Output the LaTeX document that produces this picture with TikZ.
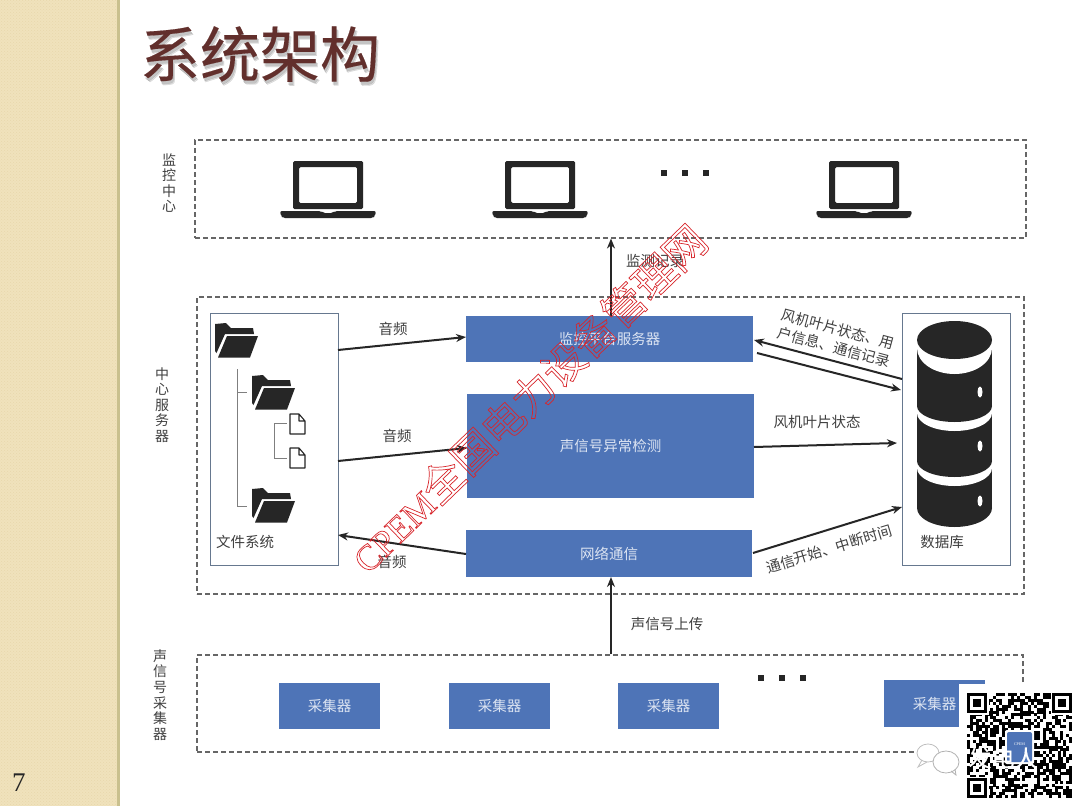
\documentclass[tikz,border=0pt]{standalone}
\usepackage{fontspec}
\setmainfont{Noto Sans CJK SC}
\newfontfamily\serifl{Liberation Serif}
\newfontfamily\titlef[FakeBold=0.25]{Noto Sans CJK SC}
\newfontfamily\tagf[FakeBold=0.5]{Noto Sans CJK SC}
\usetikzlibrary{arrows.meta,patterns}
\definecolor{strip}{HTML}{F0E2BC}
\definecolor{stripd}{HTML}{E8D8AC}
\definecolor{stripedge}{HTML}{C9C08E}
\definecolor{titlec}{HTML}{622F2C}
\definecolor{blueb}{HTML}{4E74B7}
\definecolor{bluet}{HTML}{DCE4F2}
\definecolor{ink}{HTML}{262626}
\definecolor{labelc}{HTML}{404040}
\definecolor{dashc}{HTML}{666666}
\definecolor{edgec}{HTML}{66788F}
\definecolor{treec}{HTML}{7F7F7F}
\definecolor{wm}{HTML}{D8252B}
\tikzset{
  dashbox/.style={draw=dashc,line width=1.05pt,dash pattern=on 5pt off 3pt},
  panel/.style={draw=edgec,line width=1pt,fill=white,inner sep=0pt,outer sep=0pt},
  bluebox/.style={fill=blueb,inner sep=0pt,outer sep=0pt,text=bluet,font=\fontsize{14.5}{17}\selectfont},
  lab/.style={text=labelc,inner sep=0pt,font=\fontsize{14.5}{17}\selectfont},
  vlab/.style={text=labelc,inner sep=0pt,align=center,font=\fontsize{14}{15.6}\selectfont},
  link/.style={draw=ink,line width=2pt,-{Stealth[length=10pt,width=8pt]}},
  tree/.style={draw=treec,line width=1pt},
  dots/.style={fill=ink,minimum size=6pt,inner sep=0pt},
  band/.style={fill=white},
  seg/.style={fill=ink},
  laptop/.pic={
    \fill[ink,even odd rule,rounded corners=1.5pt] (-35,-29) rectangle (35,19) (-29,-23) rectangle (29,13);
    \fill[ink,rounded corners=2pt] (-48,21) -- (-7,21) -- (-5,23) -- (5,23) -- (7,21) -- (48,21) -- (47,26) -- (45,28) -- (-45,28) -- (-47,26) -- cycle;
  },
  folder/.pic={
    \fill[ink] (0,1) -- (11,0) -- (16,5) -- (38,5) -- (39,11) -- (10,11) -- (1.5,30) -- (0,28) -- cycle;
    \fill[ink] (12,13) -- (43,13) -- (35,34.5) -- (3,34.5) -- cycle;
  },
  docicon/.pic={
    \draw[ink,line width=1.1pt,line join=round] (0,0) -- (9,0) -- (15,7) -- (15,20) -- (0,20) -- cycle (9,0) -- (9,7) -- (15,7);
  },
}
\begin{document}
\begin{tikzpicture}[x=1pt,y=-1pt]
\useasboundingbox (0,0) rectangle (1080,806);
\fill[white] (0,0) rectangle (1080,806);
% side strip
\fill[strip] (0,0) rectangle (117,806);
\fill[pattern=crosshatch dots,pattern color=stripd] (0,0) rectangle (117,806);
\fill[stripedge] (117,0) rectangle (120,806);
\node[inner sep=0pt,text=ink,font=\serifl\fontsize{27}{30}\selectfont] (pagenum) at (19,783) {7};
% title
\node[inner sep=0pt,text=black,opacity=.12,font=\titlef\fontsize{60}{62}\selectfont] (titleshadowa) at (261,57) {系统架构};
\node[inner sep=0pt,text=black,opacity=.12,font=\titlef\fontsize{60}{62}\selectfont] (titleshadowb) at (262,58) {系统架构};
\node[inner sep=0pt,text=titlec,font=\titlef\fontsize{60}{62}\selectfont] (title) at (260,54) {系统架构};
% tier frames
\node[dashbox,minimum width=831pt,minimum height=98pt,inner sep=0pt] (tierA) at (610.5,189) {};
\node[dashbox,minimum width=827pt,minimum height=297pt,inner sep=0pt] (tierB) at (610.5,445.5) {};
\node[dashbox,minimum width=826pt,minimum height=97pt,inner sep=0pt] (tierC) at (610,703.5) {};
\node[vlab] (tierAl) at (169,183) {监\\控\\中\\心};
\node[vlab] (tierBl) at (162,405) {中\\心\\服\\务\\器};
\node[vlab] (tierCl) at (160,695) {声\\信\\号\\采\\集\\器};
% laptops
\pic at (328,190) {laptop};
\pic at (540,190) {laptop};
\pic at (864,190) {laptop};
\node[dots] (da1) at (664,173) {};
\node[dots] (da2) at (685,173) {};
\node[dots] (da3) at (706,173) {};
% panels
\node[panel,minimum width=128pt,minimum height=252pt] (fs) at (274,439) {};
\node[panel,minimum width=108pt,minimum height=252pt] (db) at (956,439) {};
\node[lab] (fsl) at (245,542) {文件系统};
\node[lab] (dbl) at (942,542) {数据库};
% file tree
\draw[tree] (237,369) -- (237,506) -- (247,506);
\draw[tree] (237,392) -- (247,392);
\draw[tree] (274,423) -- (274,458) -- (287,458);
\draw[tree] (274,423) -- (287,423);
\pic at (215,323) {folder};
\pic at (252,375) {folder};
\pic at (252,488) {folder};
\pic at (290,414) {docicon};
\pic at (290,448) {docicon};
% database cylinder, painted from the bottom up
\fill[seg] (917,461) rectangle (992,508);
\fill[seg] (954.5,508) ellipse[x radius=37.5,y radius=19];
\fill[band] (917,406) rectangle (992,468);
\fill[band] (954.5,468) ellipse[x radius=37.5,y radius=18];
\fill[seg] (917,350) rectangle (992,461);
\fill[seg] (954.5,461) ellipse[x radius=37.5,y radius=16];
\fill[band] (917,350) rectangle (992,413);
\fill[band] (954.5,413) ellipse[x radius=37.5,y radius=18];
\fill[seg] (917,340) rectangle (992,406);
\fill[seg] (954.5,406) ellipse[x radius=37.5,y radius=16];
\fill[band] (917,330) rectangle (992,348);
\fill[band] (954.5,348) ellipse[x radius=37.5,y radius=26];
\fill[seg] (954.5,340) ellipse[x radius=37.5,y radius=19];
\fill[white] (980,392) ellipse[x radius=2.5,y radius=5.5];
\fill[white] (980,446) ellipse[x radius=2.5,y radius=5.5];
\fill[white] (980,501) ellipse[x radius=2.5,y radius=5.5];
% blue boxes
\node[bluebox,minimum width=287pt,minimum height=46pt] (srv) at (609.5,339) {监控平台服务器};
\node[bluebox,minimum width=287pt,minimum height=104pt] (det) at (610.5,446) {声信号异常检测};
\node[bluebox,minimum width=286pt,minimum height=47pt] (net) at (609,553.5) {网络通信};
\node[bluebox,minimum width=101pt,minimum height=46pt] (c1) at (329.5,706) {采集器};
\node[bluebox,minimum width=101pt,minimum height=46pt] (c2) at (499.5,706) {采集器};
\node[bluebox,minimum width=101pt,minimum height=46pt] (c3) at (668.5,706) {采集器};
\node[bluebox,minimum width=101pt,minimum height=47pt] (c4) at (934.5,703.5) {采集器};
\node[dots] (dc1) at (761,678) {};
\node[dots] (dc2) at (782,678) {};
\node[dots] (dc3) at (803,678) {};
% connectors
\draw[link] ([xshift=1.5pt]srv.north) -- ([xshift=.5pt]tierA.south);
\draw[link] ([xshift=1pt]tierC.north) -- ([xshift=2pt]net.south);
\draw[link] ([yshift=89pt]fs.east) -- ([yshift=2pt]srv.west);
\draw[link] ([yshift=-22pt]fs.east) -- ([yshift=-2pt]det.west);
\draw[link] ([yshift=-.5pt]net.west) -- ([yshift=-96pt]fs.east);
\draw[link] ([yshift=60pt]db.west) -- ([yshift=-1pt,xshift=1pt]srv.east);
\draw[link] ([yshift=-14pt,xshift=4pt]srv.east) -- ([yshift=49pt,xshift=-1pt]db.west);
\draw[link] ([yshift=-1pt]det.east) -- ([yshift=-4pt,xshift=-5pt]db.west);
\draw[link] ([yshift=.5pt,xshift=1pt]net.east) -- ([yshift=-68pt]db.west);
% connector labels
\node[lab,text=labelc] (l1) at (655,261) {监测记录};
\node[lab] (l2) at (667,624) {声信号上传};
\node[lab] (l3) at (393,329) {音频};
\node[lab] (l4) at (397,436) {音频};
\node[lab] (l5) at (392,562) {音频};
\node[lab,rotate=-15] (l6) at (838,329) {风机叶片状态、用};
\node[lab,rotate=-15] (l7) at (834,347) {户信息、通信记录};
\node[lab] (l8) at (817,422) {风机叶片状态};
\node[lab,rotate=17] (l9) at (829,549) {通信开始、中断时间};
% QR area mask
\fill[white] (959,684) rectangle (1080,806);
\fill[white] (917,742) rectangle (959,806);
% wechat bubbles
\draw[draw=black!25,fill=white,line width=.8pt] (928,753) ellipse[x radius=11,y radius=9];
\draw[draw=black!25,line width=.8pt] (922,760) -- (918,767) -- (927,762);
\draw[draw=black!30,fill=white,line width=.8pt] (946,762) ellipse[x radius=13,y radius=11];
\draw[draw=black!30,line width=.8pt] (951,771) -- (956,775) -- (955,769);
% QR code
\pgfmathsetseed{41}
\foreach \i in {0,...,35}{\foreach \j in {0,...,35}{
  \pgfmathrandominteger{\r}{0}{99}
  \ifnum\r<52 \fill[black] ({967+\i*2.92},{693+\j*2.92}) rectangle +(3,3);\fi
}}
\foreach \fx/\fy in {967/693,1052/693,967/778}{
  \fill[white] (\fx-1,\fy-1) rectangle +(23,23);
  \fill[black] (\fx,\fy) rectangle +(20,20);
  \fill[white] (\fx+3,\fy+3) rectangle +(14,14);
  \fill[black] (\fx+6,\fy+6) rectangle +(8,8);
}
\fill[white,rounded corners=2pt] (1005,730) rectangle (1034,764);
\fill[blueb,rounded corners=2pt] (1007,732) rectangle (1032,762);
\node[inner sep=0pt,text=white,font=\serifl\fontsize{4}{4}\selectfont] (qrlogo) at (1019.5,744) {CPEM};
\node[inner sep=0pt,text=white,font=\tagf\fontsize{23}{25}\selectfont] (qrtag) at (1003,758) {发电人};
% watermark
\node[inner sep=0pt,rotate=44,text=wm,font=\fontsize{42}{44}\selectfont] (stamp) at (528,398) {\special{pdf:literal 1 Tr 0.7 w}{\serifl\fontsize{36}{38}\selectfont CPEM}全国电力设备管理网\special{pdf:literal 0 Tr}};
\end{tikzpicture}
\end{document}
